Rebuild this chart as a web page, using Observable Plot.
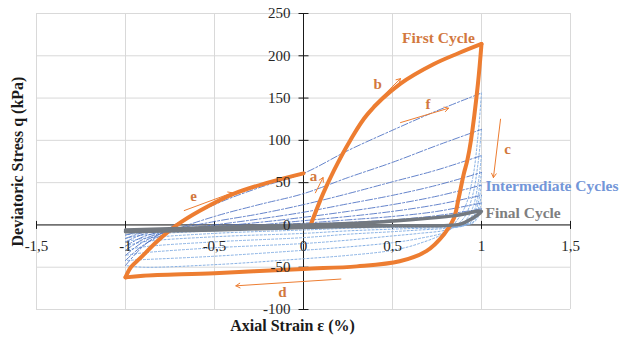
<!DOCTYPE html>
<html>
<head>
<meta charset="utf-8">
<script src="https://cdn.jsdelivr.net/npm/d3@7"></script>
<script src="https://cdn.jsdelivr.net/npm/@observablehq/plot@0.6"></script>
<style>
  html, body { margin: 0; padding: 0; background: #fff; }
  #chart { width: 629px; height: 341px; }
</style>
</head>
<body>
<div id="chart"></div>
<script>
// ---- Axis ticks ----
const xTicks = [-1.5, -1, -0.5, 0, 0.5, 1, 1.5];
const yTicks = [-100, -50, 0, 50, 100, 150, 200, 250];

// ---- First cycle (orange) ----
const firstLoadX   = [0.04, 0.11, 0.17, 0.26, 0.36, 0.545, 0.73, 0.87, 1.0];
const firstLoadY   = [0, 37, 64, 99, 131, 167, 190, 203, 214];
const firstUnloadX = [1.0, 0.98, 0.94, 0.92, 0.9, 0.87, 0.845, 0.79, 0.69, 0.54, 0.3, 0, -0.5, -0.9, -1];
const firstUnloadY = [214, 167, 99, 76, 60, 30, 8, -11, -31, -43, -49, -52, -57, -60, -62];
const firstReloadX = [-1, -0.97, -0.916, -0.82, -0.71, -0.58, -0.39, -0.2, 0];
const firstReloadY = [-62, -50, -39, -19, 0, 17, 37, 50, 61];

// ---- Intermediate cycles (blue) ----
const interLoadX = [-1, -0.9, -0.75, -0.5, -0.25, 0, 0.25, 0.5, 0.75, 1];
const interLoadY = [
  [-48, -25, -3, 24, 44, 61, 88, 112, 135, 156],
  [-42, -24, -8, 10, 24, 37, 56, 74, 94, 113],
  [-36, -20, -7, 4, 13, 24, 37, 51, 65, 82],
  [-30, -17, -7, 0, 7, 15, 25, 35, 47, 62],
  [-25, -14, -6, -2, 3, 9, 16, 24, 34, 47],
  [-20, -11, -5, -3, 0, 5, 10, 16, 24, 35],
  [-16, -9, -5, -3, -1, 2, 6, 10, 16, 26],
  [-12, -7, -4, -3, -1, 1, 3, 6, 11, 19]
];
const interUnloadX = [1, 0.98, 0.95, 0.9, 0.8, 0.65, 0.5, 0.25, 0, -0.5, -0.9, -1];
const interUnloadY = [
  [156, 105, 55, 18, -8, -22, -30, -36, -40, -47, -50, -48],
  [113, 72, 35, 8, -8, -16, -21, -26, -30, -37, -41, -42],
  [82, 48, 20, 3, -6, -10, -13, -18, -22, -27, -33, -36],
  [62, 34, 12, 0, -4, -6, -8, -11, -15, -20, -26, -30],
  [47, 25, 8, -1, -3, -4, -5, -7, -10, -14, -20, -25],
  [35, 18, 5, -1, -2, -3, -3, -4, -6, -10, -16, -20],
  [26, 13, 3, -1, -1, -2, -2, -3, -4, -7, -12, -16],
  [19, 9, 2, 0, 0, -1, -1, -2, -3, -5, -9, -12]
];

// ---- Final cycle (grey) ----
const finalX = [-1, -0.5, 0, 0.3, 0.6, 0.85, 1, 0.95, 0.88, 0.5, 0, -0.5, -1];
const finalY = [-6, -3, 0, 2, 6, 11, 16, 8, 1, -1, -3, -6, -8];

// ---- Annotations ----
const letterText = ["a", "b", "f", "c", "d", "e"];
const letterX = [0.056, 0.416, 0.70, 1.146, -0.118, -0.618];
const letterY = [58, 167, 143, 90, -80, 34];
const arrowX1 = [0.067, 0.39, 0.545, 1.107, 0.21, -0.67];
const arrowY1 = [38, 141, 121, 125, -64, 17];
const arrowX2 = [0.11, 0.545, 0.815, 1.067, -0.38, -0.40];
const arrowY2 = [56, 173, 138, 56, -72, 38];
const seriesLabels = ["First Cycle", "Intermediate Cycles", "Final Cycle"];
const seriesLabelX = [0.758, 1.022, 1.022];
const seriesLabelY = [221, 46, 14];
const seriesLabelColors = ["#d2783e", "#7396d8", "#7f7f7f"];

// ---- Build tables ----
const zip = (xs, ys, id) => xs.map((x, i) => ({x, y: ys[i], id}));
const firstRows = [
  ...zip(firstLoadX, firstLoadY, "load"),
  ...zip(firstUnloadX, firstUnloadY, "unload"),
  ...zip(firstReloadX, firstReloadY, "reload")
];
const interLoadRows = interLoadY.flatMap((ys, k) => zip(interLoadX, ys, "L" + k));
const interUnloadRows = interUnloadY.flatMap((ys, k) => zip(interUnloadX, ys, "U" + k));
const finalRows = zip(finalX, finalY, "final");
const letters = letterText.map((t, i) => ({t, x: letterX[i], y: letterY[i]}));
const arrows = arrowX1.map((x1, i) => ({x1, y1: arrowY1[i], x2: arrowX2[i], y2: arrowY2[i]}));
const labels = seriesLabels.map((t, i) => ({t, x: seriesLabelX[i], y: seriesLabelY[i], c: seriesLabelColors[i]}));

const fmt = d => String(d).replace(".", ",");
const serif = "'Liberation Serif', 'Times New Roman', serif";
const hTick = {draw(c) { c.moveTo(-5, 0); c.lineTo(5, 0); }};
const vTick = {draw(c) { c.moveTo(0, -4); c.lineTo(0, 4); }};

const chart = Plot.plot({
  width: 629,
  height: 341,
  marginLeft: 36,
  marginRight: 59,
  marginTop: 13,
  marginBottom: 32,
  x: {domain: [-1.5, 1.5], axis: null},
  y: {domain: [-100, 250], axis: null},
  style: {fontFamily: serif, background: "#fff", overflow: "visible"},
  marks: [
    Plot.gridX(xTicks, {stroke: "#d9d9d9", strokeOpacity: 1}),
    Plot.gridY(yTicks, {stroke: "#d9d9d9", strokeOpacity: 1}),
    Plot.ruleY([0], {stroke: "#1a1a1a", strokeWidth: 1}),
    Plot.ruleX([0], {stroke: "#1a1a1a", strokeWidth: 1}),
    Plot.dot(yTicks, {x: 0, y: d => d, symbol: hTick, stroke: "#1a1a1a", strokeWidth: 1}),
    Plot.dot(xTicks, {x: d => d, y: 0, symbol: vTick, stroke: "#1a1a1a", strokeWidth: 1}),
    // intermediate cycles
    Plot.line(interUnloadRows, {x: "x", y: "y", z: "id", curve: "catmull-rom",
      stroke: "#86b0e4", strokeWidth: 1, strokeDasharray: "2,2"}),
    Plot.line(interLoadRows, {x: "x", y: "y", z: "id", curve: "catmull-rom",
      stroke: "#4a6fc2", strokeOpacity: 0.85, strokeWidth: 1, strokeDasharray: "7,2,2,2"}),
    // first cycle
    Plot.line(firstRows, {x: "x", y: "y", z: "id", curve: "catmull-rom",
      stroke: "#ed7d31", strokeWidth: 4, strokeLinejoin: "round", strokeLinecap: "round"}),
    // final cycle
    Plot.line(finalRows, {x: "x", y: "y", curve: "catmull-rom",
      stroke: "#737980", strokeWidth: 3.5, strokeLinejoin: "round"}),
    // tick labels
    Plot.text(yTicks, {x: 0, y: d => d, text: fmt, dx: -13, textAnchor: "end",
      fontFamily: serif, fontSize: 15, fill: "#262626"}),
    Plot.text(xTicks, {x: d => d, y: 0, text: fmt, dy: 21,
      fontFamily: serif, fontSize: 15, fill: "#262626"}),
    // arrows and letters
    Plot.arrow(arrows, {x1: "x1", y1: "y1", x2: "x2", y2: "y2",
      stroke: "#ed7d31", strokeWidth: 1, headLength: 7}),
    Plot.text(letters, {x: "x", y: "y", text: "t", fontFamily: serif, fontSize: 15,
      fontWeight: "bold", fill: "#d2783e"}),
    // series labels
    Plot.text(labels.slice(0, 1), {x: "x", y: "y", text: "t", fill: "c", fontFamily: serif,
      fontSize: 15.5, fontWeight: "bold", textAnchor: "middle"}),
    Plot.text(labels.slice(1), {x: "x", y: "y", text: "t", fill: "c", fontFamily: serif,
      fontSize: 15.5, fontWeight: "bold", textAnchor: "start"}),
    // axis titles
    Plot.text(["Deviatoric Stress q (kPa)"], {frameAnchor: "left", dx: -19, rotate: -90,
      textAnchor: "middle", fontFamily: serif, fontSize: 16, fontWeight: "bold", fill: "#1a1a1a"}),
    Plot.text(["Axial Strain \u03b5 (%)"], {frameAnchor: "bottom", dx: -11, dy: 21,
      fontFamily: serif, fontSize: 16, fontWeight: "bold", fill: "#1a1a1a"})
  ]
});
document.getElementById("chart").appendChild(chart);
</script>
</body>
</html>
